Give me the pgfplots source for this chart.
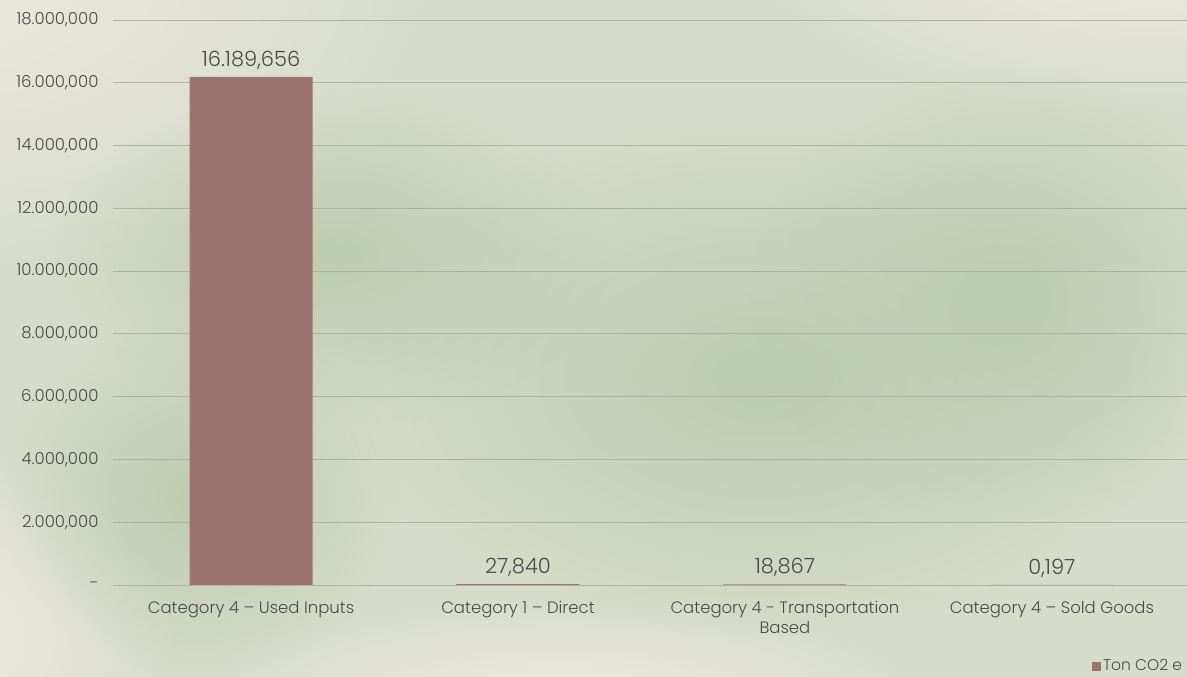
\documentclass[border=0pt]{standalone}
\usepackage{pgfplots}
\pgfplotsset{compat=1.18}
\usepackage{fontspec}
\setmainfont{Poppins}[UprightFont={* Light}]
\usetikzlibrary{fadings}
\pgfdeclarelayer{background}
\pgfsetlayers{background,main}
\tikzfading[name=softblob, inner color=transparent!0, outer color=transparent!100]
\definecolor{bgbase}{HTML}{D6DCC9}
\definecolor{beige}{HTML}{EFEAE2}
\definecolor{stain}{HTML}{BCCBAE}
\definecolor{barc}{HTML}{9C736E}
\definecolor{txt}{HTML}{4A4A46}
\definecolor{gridc}{HTML}{AEB3A0}
\begin{document}
\begin{tikzpicture}
\begin{axis}[
  scale only axis, width=1074pt, height=565pt,
  xmin=-0.517, xmax=3.506, ymin=0, ymax=18000000,
  ybar, bar width=123pt,
  axis line style={draw=none},
  major tick length=0pt,
  ymajorgrids, grid style={color=gridc, line width=0.8pt},
  ytick={0,2000000,4000000,6000000,8000000,10000000,12000000,14000000,16000000,18000000},
  yticklabels={-,{2.000,000},{4.000,000},{6.000,000},{8.000,000},{10.000,000},{12.000,000},{14.000,000},{16.000,000},{18.000,000}},
  scaled y ticks=false,
  yticklabel style={font=\fontsize{16.5}{18}\selectfont, text=txt, xshift=-11pt},
  xtick={0,1,2,3},
  xticklabels={{Category 4 – Used Inputs},{Category 1 – Direct},{Category 4 - Transportation\\Based},{Category 4 – Sold Goods}},
  xticklabel style={font=\fontsize{16.5}{20}\selectfont, text=txt, align=center, yshift=-13pt},
  point meta=explicit symbolic,
  nodes near coords,
  every node near coord/.append style={font=\fontsize{21}{22}\selectfont, text=txt, anchor=south, yshift=4pt},
  legend style={at={(0.9115,-0.1434)}, anchor=west, draw=none, fill=none, font=\fontsize{15.5}{17}\selectfont, text=txt, inner sep=0pt},
  legend image code/.code={\fill[barc] (0pt,-4.5pt) rectangle (9pt,4.5pt);},
]
\addplot[fill=barc, draw=none] coordinates {
  (0,16189656) [16.189,656]
  (1,27840) [27,840]
  (2,18867) [18,867]
  (3,0.197) [0,197]
};
\addlegendentry{Ton CO2 e}
\end{axis}
\begin{pgfonlayer}{background}
\begin{scope}[shift={(current axis.south west)}, x=1pt, y=1pt, shift={(-113,-92)}]
\clip (0,0) rectangle (1187,677);
\fill[bgbase] (0,0) rectangle (1187,677);
\fill[beige, path fading=softblob] (-60,720) ellipse (520 and 330);
\fill[beige, path fading=softblob] (1150,720) ellipse (420 and 160);
\fill[beige, path fading=softblob] (-40,40) ellipse (220 and 200);
\fill[beige, path fading=softblob] (560,-20) ellipse (380 and 100);
\fill[stain, path fading=softblob] (760,300) ellipse (420 and 260);
\fill[stain, path fading=softblob] (1010,380) ellipse (260 and 230);
\fill[stain, path fading=softblob] (330,420) ellipse (280 and 170);
\fill[stain, path fading=softblob] (200,180) ellipse (200 and 180);
\end{scope}
\end{pgfonlayer}
\pgfresetboundingbox
\useasboundingbox[shift={(current axis.south west)}, x=1pt, y=1pt, shift={(-113,-92)}] (0,0) rectangle (1187,677);
\end{tikzpicture}
\end{document}
